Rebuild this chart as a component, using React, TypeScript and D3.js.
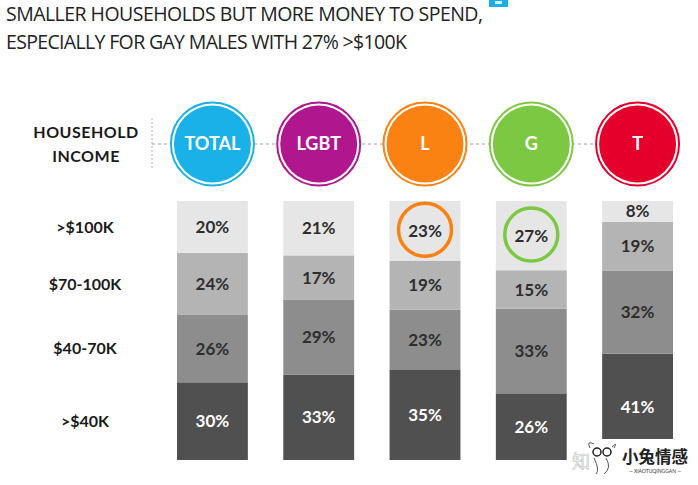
import React, { useEffect, useRef } from 'react';
import * as d3 from 'd3';

// groups across the top
const groups = ['TOTAL', 'LGBT', 'L', 'G', 'T'];
const groupColors = ['#1ab1e8', '#b0178f', '#f98212', '#7cc843', '#e4002b'];

// income bands, bottom to top
const bands = ['>$40K', '$40-70K', '$70-100K', '>$100K'];
const under40 = [30, 33, 35, 26, 41];
const from40to70 = [26, 29, 23, 33, 32];
const from70to100 = [24, 17, 19, 15, 19];
const over100 = [20, 21, 23, 27, 8];

const highlighted = ['L', 'G'];

const bandFills = ['#505050', '#8d8d8d', '#b4b4b4', '#e6e6e6'];
const bandText = ['#ffffff', '#2e2e2e', '#2e2e2e', '#2e2e2e'];

const W = 698;
const H = 485;

const App: React.FC = () => {
  const svgRef = useRef<SVGSVGElement>(null);

  useEffect(() => {
    if (!svgRef.current) return;
    const svg = d3.select(svgRef.current);
    svg.selectAll('*').remove();

    const font = 'Lato, "Open Sans", sans-serif';

    const rows = groups.map((g, i) => ({
      group: g,
      [bands[0]]: under40[i],
      [bands[1]]: from40to70[i],
      [bands[2]]: from70to100[i],
      [bands[3]]: over100[i],
    }));

    const stack = d3.stack<any>().keys(bands).offset(d3.stackOffsetExpand);
    const series = stack(rows);

    const x = d3.scaleBand()
      .domain(groups)
      .range([177, 673])
      .paddingInner(1 / 3)
      .paddingOuter(0);

    const y = d3.scaleLinear().domain([0, 1]).range([460, 201]);

    // title
    const title = svg.append('g').attr('font-family', '"Open Sans", Lato, sans-serif').attr('fill', '#222');
    title.append('text')
      .attr('x', 6).attr('y', 21)
      .attr('font-size', 19.5)
      .attr('textLength', 477).attr('lengthAdjust', 'spacing')
      .text('SMALLER HOUSEHOLDS BUT MORE MONEY TO SPEND,');
    title.append('text')
      .attr('x', 6).attr('y', 49)
      .attr('font-size', 19.5)
      .attr('textLength', 401).attr('lengthAdjust', 'spacing')
      .text('ESPECIALLY FOR GAY MALES WITH 27% >$100K');

    // small logo corner
    svg.append('rect').attr('x', 489).attr('y', 0).attr('width', 19).attr('height', 7).attr('fill', '#1aaee6');
    svg.append('rect').attr('x', 495).attr('y', 1).attr('width', 7).attr('height', 3).attr('fill', '#fff').attr('opacity', 0.8);

    // header
    const header = svg.append('g').attr('font-family', font).attr('font-weight', 700).attr('fill', '#1a1a1a');
    header.append('text').attr('x', 86).attr('y', 138).attr('text-anchor', 'middle')
      .attr('font-size', 16).attr('letter-spacing', 0.5).text('HOUSEHOLD');
    header.append('text').attr('x', 86).attr('y', 162).attr('text-anchor', 'middle')
      .attr('font-size', 16).attr('letter-spacing', 0.5).text('INCOME');

    const cy = 144;
    svg.append('line')
      .attr('x1', 152).attr('x2', 152).attr('y1', 118).attr('y2', 170)
      .attr('stroke', '#b0b0b0').attr('stroke-width', 1).attr('stroke-dasharray', '2,2');
    svg.append('line')
      .attr('x1', 152).attr('x2', (x('T') || 0) + x.bandwidth() / 2).attr('y1', cy).attr('y2', cy)
      .attr('stroke', '#9aa0b0').attr('stroke-width', 1).attr('stroke-dasharray', '3,3');

    const badges = svg.append('g').selectAll('g')
      .data(groups)
      .join('g')
      .attr('transform', d => `translate(${(x(d) || 0) + x.bandwidth() / 2},${cy})`);
    badges.append('circle').attr('r', 41.5).attr('fill', '#fff')
      .attr('stroke', (d, i) => groupColors[i]).attr('stroke-width', 2);
    badges.append('circle').attr('r', 38.5).attr('fill', (d, i) => groupColors[i]);
    badges.append('text')
      .attr('text-anchor', 'middle').attr('dy', '0.36em')
      .attr('font-family', font).attr('font-weight', 700).attr('font-size', 18)
      .attr('fill', '#fff')
      .text(d => d);

    // stacked bars
    const layers = svg.append('g').selectAll('g')
      .data(series)
      .join('g')
      .attr('fill', (d, i) => bandFills[i]);
    layers.selectAll('rect')
      .data(d => d)
      .join('rect')
      .attr('x', d => x(d.data.group) || 0)
      .attr('width', x.bandwidth())
      .attr('y', d => y(d[1]))
      .attr('height', d => y(d[0]) - y(d[1]));

    const labels = svg.append('g').attr('font-family', font).attr('font-weight', 700).attr('font-size', 17);
    series.forEach((s, si) => {
      s.forEach(d => {
        const g = d.data.group;
        const cx = (x(g) || 0) + x.bandwidth() / 2;
        const my = (y(d[0]) + y(d[1])) / 2;
        labels.append('text')
          .attr('x', cx).attr('y', my).attr('dy', '0.36em')
          .attr('text-anchor', 'middle')
          .attr('fill', bandText[si])
          .text(`${d.data[bands[si]]}%`);
        if (si === bands.length - 1 && highlighted.includes(g)) {
          labels.append('circle')
            .attr('cx', cx).attr('cy', my - 1).attr('r', 26.5)
            .attr('fill', 'none')
            .attr('stroke', groupColors[groups.indexOf(g)])
            .attr('stroke-width', 3.5);
        }
      });
    });

    // row labels aligned with the TOTAL stack
    const rowLabels = svg.append('g').attr('font-family', font).attr('font-weight', 700)
      .attr('font-size', 16).attr('fill', '#1a1a1a');
    series.forEach((s, si) => {
      const d = s[0];
      rowLabels.append('text')
        .attr('x', 85).attr('y', (y(d[0]) + y(d[1])) / 2).attr('dy', '0.36em')
        .attr('text-anchor', 'middle')
        .text(bands[si]);
    });

    // watermark
    const wm = svg.append('g');
    wm.append('rect').attr('x', 571).attr('y', 439).attr('width', 127).attr('height', 46).attr('fill', '#fff');
    wm.append('text').attr('x', 572).attr('y', 468)
      .attr('font-family', '"Noto Sans CJK SC"').attr('font-size', 18)
      .attr('fill', 'none').attr('stroke', '#bbb').attr('stroke-width', 0.6)
      .text('知');
    wm.append('circle').attr('cx', 597).attr('cy', 452).attr('r', 4).attr('fill', 'none').attr('stroke', '#222').attr('stroke-width', 1.5);
    wm.append('circle').attr('cx', 607).attr('cy', 452).attr('r', 4).attr('fill', 'none').attr('stroke', '#222').attr('stroke-width', 1.5);
    wm.append('path').attr('d', 'M590,448 Q586,440 594,444 M612,447 Q618,441 614,448 M594,458 Q600,470 596,474 M606,458 Q612,468 604,474')
      .attr('fill', 'none').attr('stroke', '#555').attr('stroke-width', 1);
    wm.append('text').attr('x', 622).attr('y', 463)
      .attr('font-family', '"Noto Sans CJK SC"').attr('font-weight', 700).attr('font-size', 16.5)
      .attr('fill', '#222').text('小兔情感');
    wm.append('text').attr('x', 655).attr('y', 473).attr('text-anchor', 'middle')
      .attr('font-family', font).attr('font-size', 5).attr('fill', '#333')
      .text('— XIAOTUQINGGAN —');
  }, []);

  return (
    <svg
      ref={svgRef}
      width={W}
      height={H}
      style={{ position: 'absolute', left: 0, top: 0, background: '#fff' }}
    />
  );
};

export default App;
